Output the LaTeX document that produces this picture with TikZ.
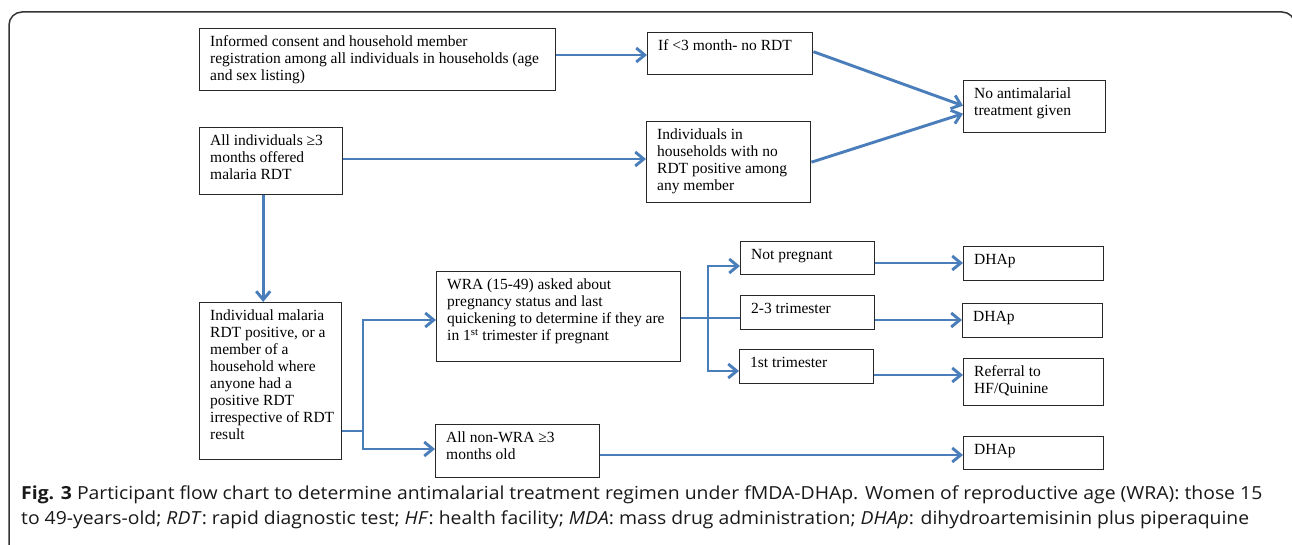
\documentclass[tikz,border=0pt]{standalone}
\usepackage{fontspec}
\usepackage{graphicx}
\setmainfont{Liberation Serif}
\newfontfamily\capfont{Open Sans}
\usetikzlibrary{arrows.meta}
\definecolor{flowblue}{RGB}{74,126,187}
\definecolor{boxline}{RGB}{40,40,40}
\newcommand\flowbox[6]{%
  \node[box, minimum width=#4-#2, minimum height=#5-#3] (#1) at (#2,#3) {};
  \node[txt] (#1-t) at (#2+11,#3+18.5) {\begin{tabular}[t]{@{}l@{}}#6\end{tabular}};}
\begin{document}
\begin{tikzpicture}[x=1pt,y=-1pt,
  box/.style={draw=boxline, line width=1.4pt, inner sep=0pt, anchor=north west},
  txt/.style={anchor=base west, inner sep=0pt, font=\fontsize{15.5}{17}\selectfont},
  arr/.style={draw=flowblue, line width=2.9pt, -{Straight Barb[length=8.5pt,width=14pt]}},
  ln/.style={draw=flowblue, line width=2.9pt},
  captxt/.style={anchor=base west, inner sep=0pt, text=black!90}
]
\useasboundingbox (0,0) rectangle (1292,545);
\fill[white] (0,0) rectangle (1292,545);
\begin{scope}
  \clip (0,0) rectangle (1292,545);
  \draw[draw=black!80, line width=1.5pt, rounded corners=13pt] (9,12) rectangle (1295,565);
\end{scope}

% boxes
\flowbox{inf}{199}{28}{555}{90}{Informed consent and household member\\registration among all individuals in households (age\\and sex listing)}
\flowbox{lt3}{647}{32}{812}{74}{If <3 month- no RDT}
\flowbox{noa}{963}{80}{1105}{132}{No antimalarial\\treatment given}
\flowbox{all}{199}{127}{342}{194}{All individuals ≥3\\months offered\\malaria RDT}
\flowbox{ihh}{646}{121}{810}{202}{Individuals in\\households with no\\RDT positive among\\any member}
\flowbox{ind}{199}{302}{341}{459}{Individual malaria\\RDT positive, or a\\member of a\\household where\\anyone had a\\positive RDT\\irrespective of RDT\\result}
\flowbox{wra}{436}{271}{680}{361}{WRA (15-49) asked about\\pregnancy status and last\\quickening to determine if they are\\in 1\textsuperscript{st} trimester if pregnant}
\flowbox{nwr}{435}{424}{599}{477}{All non-WRA ≥3\\months old}
\flowbox{np}{740}{241}{874}{274}{Not pregnant}
\flowbox{t23}{740}{295}{874}{329}{2-3 trimester}
\flowbox{t1}{739}{349}{873}{383}{1st trimester}
\flowbox{d1}{963}{246}{1103}{280}{DHAp}
\flowbox{d2}{962}{303}{1102}{337}{DHAp}
\flowbox{ref}{963}{358}{1103}{405}{Referral to\\HF/Quinine}
\flowbox{d4}{963}{436}{1103}{469}{DHAp}

% junction coordinates
\coordinate (s1) at (363,431);
\coordinate (s1t) at (363,320);
\coordinate (s1b) at (363,449);
\coordinate (s2) at (708,318);
\coordinate (s2t) at (708,266);
\coordinate (s2b) at (708,371);

% connectors
\draw[arr] (inf.east |- 0,55) -- (lt3.west |- 0,55);
\draw[arr] (all.east |- 0,159) -- (ihh.west |- 0,159);
\draw[arr] ([yshift=2pt]lt3.east) -- ([yshift=1pt]noa.west);
\draw[arr] (ihh.east) -- ([yshift=-7pt]noa.west);
\draw[arr] ([xshift=-8pt]all.south) -- ([xshift=-8pt]all.south |- ind.north);
\draw[ln] (ind.east |- s1) -- (s1);
\draw[arr] (s1) -- (s1t) -- (s1t -| wra.west);
\draw[arr] (s1) -- (s1b) -- (s1b -| nwr.west);
\draw[ln] (wra.east |- s2) -- (s2 -| t23.west);
\draw[arr] (s2) -- (s2t) -- (s2t -| np.west);
\draw[arr] (s2) -- (s2b) -- (s2b -| t1.west);
\draw[arr] (np.east |- 0,263) -- (d1.west |- 0,263);
\draw[arr] (t23.east |- 0,320) -- (d2.west |- 0,320);
\draw[arr] (t1.east |- 0,375) -- (ref.west |- 0,375);
\draw[arr] (nwr.east |- 0,455) -- (d4.west |- 0,455);

% caption
\node[captxt] (cap1) at (21,499) {\resizebox{1241pt}{\height}{\capfont\fontsize{18}{21}\selectfont\textbf{Fig. 3} Participant flow chart to determine antimalarial treatment regimen under fMDA-DHAp. Women of reproductive age (WRA): those 15}};
\node[captxt] (cap2) at (21,524) {\resizebox{1228pt}{\height}{\capfont\fontsize{18}{21}\selectfont to 49-years-old; \textit{RDT}: rapid diagnostic test; \textit{HF}: health facility; \textit{MDA}: mass drug administration; \textit{DHAp}: dihydroartemisinin plus piperaquine}};
\end{tikzpicture}
\end{document}
